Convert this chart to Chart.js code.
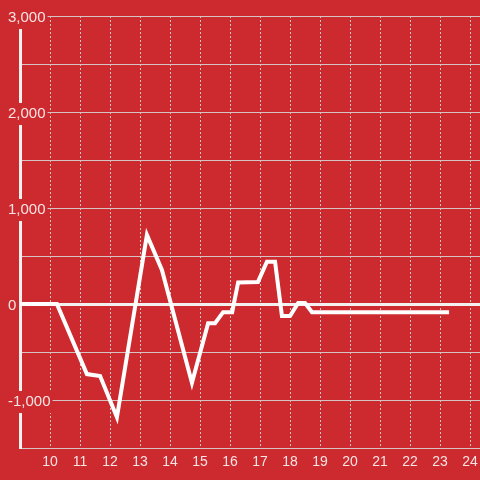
<!DOCTYPE html>
<html>
<head>
<meta charset="utf-8">
<script src="https://cdn.jsdelivr.net/npm/chart.js@4"></script>
<style>
  html, body { margin: 0; padding: 0; background: #cc2a2f; }
</style>
</head>
<body>
<canvas id="chart" width="480" height="480"></canvas>
<script>
// heures (x) et valeurs (y)
const hours = [9, 10.23, 11.23, 11.67, 12.23, 13.23, 13.73, 14.73, 15.27, 15.5, 15.77, 16.07, 16.27, 16.93, 17.23, 17.5, 17.73, 18.0, 18.27, 18.5, 18.73, 23.3];
const values = [0, 0, -730, -750, -1180, 720, 355, -820, -200, -200, -85, -85, 225, 230, 440, 440, -125, -125, 10, 10, -85, -85];
const xTicks = [10, 11, 12, 13, 14, 15, 16, 17, 18, 19, 20, 21, 22, 23, 24];

const bg = "#cc2a2f";
const labelColor = "#f8e4e4";
const gridColor = "#d6c4c4";

const points = hours.map((h, i) => ({ x: h, y: values[i] }));

new Chart(document.getElementById("chart"), {
  type: "line",
  data: {
    datasets: [{
      data: points,
      borderColor: "#ffffff",
      borderWidth: 4,
      pointRadius: 0,
      tension: 0,
      fill: false
    }]
  },
  options: {
    responsive: false,
    animation: false,
    layout: { padding: { top: 16, right: 0 } },
    plugins: {
      legend: { display: false },
      tooltip: { enabled: false }
    },
    scales: {
      x: {
        type: "linear",
        min: 9,
        max: 24.33,
        afterBuildTicks: scale => {
          scale.ticks = xTicks.map(v => ({ value: v }));
        },
        afterFit: scale => {
          scale.height = 32;
          scale.paddingLeft = 0;
          scale.paddingRight = 0;
        },
        grid: { color: gridColor, lineWidth: 1, drawTicks: false },
        border: { color: gridColor, width: 1, dash: [2, 2] },
        ticks: {
          color: labelColor,
          padding: 6,
          maxRotation: 0,
          font: { family: "'Liberation Sans', Arial, sans-serif", size: 14 }
        }
      },
      y: {
        min: -1500,
        max: 3000,
        afterFit: scale => { scale.width = 20; },
        grid: {
          drawTicks: false,
          color: ctx => ctx.tick && ctx.tick.value === 0 ? "#f4f0f0" : gridColor,
          lineWidth: ctx => ctx.tick && ctx.tick.value === 0 ? 3 : 1
        },
        border: { color: "#f4f0f0", width: 3 },
        ticks: {
          stepSize: 500,
          mirror: true,
          padding: -12,
          labelOffset: 2,
          color: labelColor,
          showLabelBackdrop: true,
          backdropPadding: 2,
          backdropColor: ctx => ctx.tick && ctx.tick.value % 1000 === 0 ? bg : "rgba(0,0,0,0)",
          font: { family: "'Liberation Sans', Arial, sans-serif", size: 15 },
          callback: v => v % 1000 === 0 ? v.toLocaleString("en-US") : ""
        }
      }
    }
  }
});
</script>
</body>
</html>
